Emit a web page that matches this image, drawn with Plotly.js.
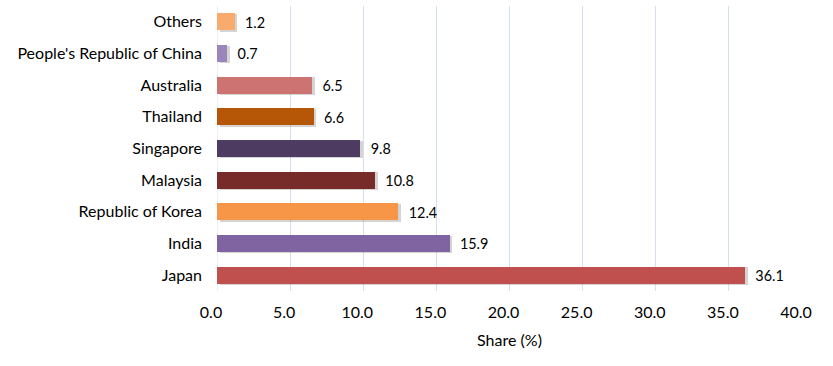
<!DOCTYPE html>
<html><head><meta charset="utf-8">
<script src="https://cdn.plot.ly/plotly-3.0.1.min.js"></script>
<style>html,body{margin:0;padding:0;background:#fff;}#chart{width:833px;height:366px;}</style>
</head><body><div id="chart"></div>
<script>
const categories = ["Japan","India","Republic of Korea","Malaysia","Singapore","Thailand","Australia","People's Republic of China","Others"];
const shares = [36.1,15.9,12.4,10.8,9.8,6.6,6.5,0.7,1.2];
const barColors = ["#C0504D","#8064A2","#F79646","#772C2A","#4D3B62","#B65708","#CD7371","#9A86BA","#F9AB6D"];
const tickVals = [0,5,10,15,20,25,30,35,40];

const FONT = "Lato, 'Open Sans', sans-serif";
const shadow = {
  type: "bar", orientation: "h",
  y: categories, x: shares,
  base: 0.2,
  width: 0.56, offset: -0.31,
  marker: {color: "rgba(60,60,60,0.22)"},
  hoverinfo: "none"
};
const trace = {
  type: "bar", orientation: "h",
  y: categories, x: shares,
  marker: {color: barColors},
  width: 0.54, offset: -0.27,
  text: shares.map(v => "\u00A0\u00A0" + v.toFixed(1)),
  textposition: "outside",
  cliponaxis: false,
  textfont: {family: FONT, size: 16, color: "#000"},
  hoverinfo: "none"
};
const layout = {
  width: 833, height: 366,
  margin: {l: 217, r: 31, t: 6, b: 75},
  paper_bgcolor: "#fff", plot_bgcolor: "#fff",
  font: {family: FONT, size: 16, color: "#000"},
  showlegend: false,
  barmode: "overlay",
  bargap: 0,
  xaxis: {
    range: [0, 40], tickvals: tickVals, ticktext: tickVals.map(v => v.toFixed(1)),
    showgrid: true, gridcolor: "#D5E0EE", gridwidth: 1,
    zeroline: false, showline: false, ticks: "",
    ticklabelstandoff: 10,
    ticklabelshift: -6,
    tickfont: {size: 16},
    title: {text: "Share (%)", font: {size: 16}, standoff: 14}
  },
  yaxis: {
    categoryorder: "array", categoryarray: categories,
    showgrid: false, zeroline: false, showline: false, ticks: "",
    ticklabelstandoff: 14,
    tickfont: {size: 16}
  },
  shapes: [{type: "line", xref: "x", yref: "paper", x0: 0, x1: 0, y0: 0, y1: 1, line: {color: "#D5E0EE", width: 1}, layer: "below"}]
};
Plotly.newPlot("chart", [shadow, trace], layout, {displayModeBar: false, staticPlot: true});
</script>
</body></html>
